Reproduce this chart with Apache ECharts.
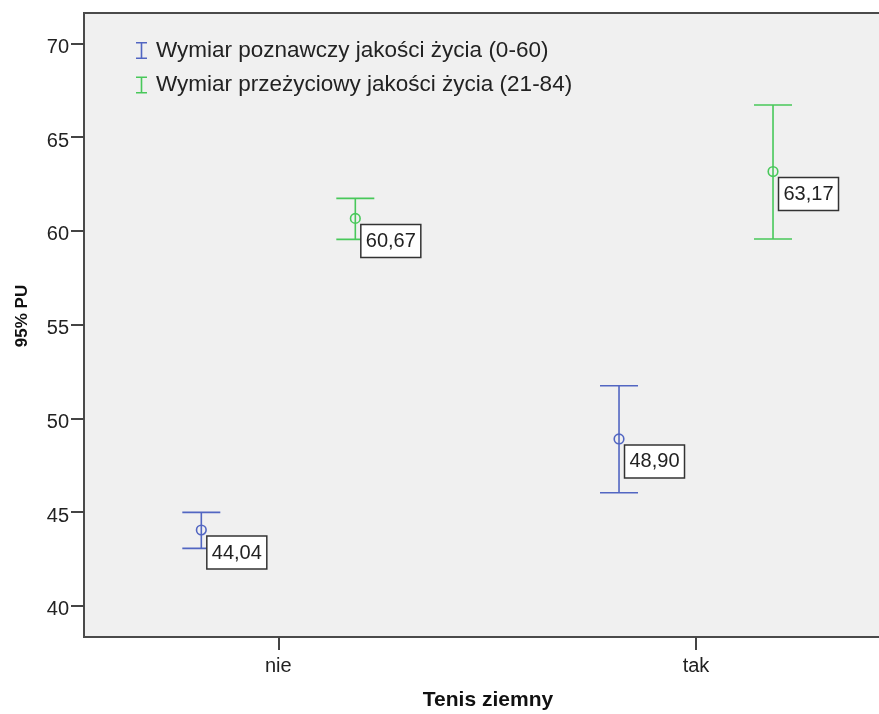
<!DOCTYPE html>
<html><head><meta charset="utf-8">
<script src="https://cdn.jsdelivr.net/npm/echarts@6/dist/echarts.min.js"></script>
<style>html,body{margin:0;padding:0;background:#fff}#c{width:879px;height:714px}</style>
</head><body><div id="c"></div>
<script>
const categories = ['nie', 'tak'];
const seriesNames = ['Wymiar poznawczy jakości życia (0-60)', 'Wymiar przeżyciowy jakości życia (21-84)'];
const poznMean = [44.04, 48.90];
const poznLow = [43.06, 46.03];
const poznHigh = [44.98, 51.74];
const przeMean = [60.67, 63.17];
const przeLow = [59.55, 59.57];
const przeHigh = [61.74, 66.72];
const yTicks = [40, 45, 50, 55, 60, 65, 70];
const catIdx = categories.map((c, i) => i);

const FONT = '"Liberation Sans", Arial, sans-serif';

function build(mean, low, high) {
  return categories.map((c, i) => [i, mean[i], low[i], high[i]]);
}

function errorRenderer(offset) {
  return function (params, api) {
    const i = api.value(0);
    const m = api.coord([i, api.value(1)]);
    const lo = api.coord([i, api.value(2)]);
    const hi = api.coord([i, api.value(3)]);
    const x = m[0] + offset;
    const color = api.visual('color');
    const ls = { stroke: color, lineWidth: 1.6 };
    const txt = api.value(1).toFixed(2).replace('.', ',');
    const bx = x + 5.5, by = m[1] + 6;
    return {
      type: 'group', children: [
        { type: 'line', shape: { x1: x, y1: hi[1], x2: x, y2: lo[1] }, style: ls },
        { type: 'line', shape: { x1: x - 19, y1: hi[1], x2: x + 19, y2: hi[1] }, style: ls },
        { type: 'line', shape: { x1: x - 19, y1: lo[1], x2: x + 19, y2: lo[1] }, style: ls },
        { type: 'circle', shape: { cx: x, cy: m[1], r: 4.8 }, style: { fill: null, stroke: color, lineWidth: 1.6 } },
        { type: 'rect', shape: { x: bx, y: by, width: 60, height: 33 }, style: { fill: '#ffffff', stroke: '#333333', lineWidth: 1.5 } },
        { type: 'text', x: bx + 30, y: by + 17, style: { text: txt, fill: '#222222', font: '20px ' + FONT, align: 'center', verticalAlign: 'middle' } }
      ]
    };
  };
}

const iconPath = 'path://M0,0L11,0L11,1.6L6.3,1.6L6.3,15.4L11,15.4L11,17L0,17L0,15.4L4.7,15.4L4.7,1.6L0,1.6Z';

const chart = echarts.init(document.getElementById('c'), null, { renderer: 'canvas' });
chart.setOption({
  animation: false,
  backgroundColor: '#ffffff',
  grid: {
    left: 84, top: 13, width: 808, height: 624,
    outerBoundsMode: 'none', containLabel: false,
    show: true, backgroundColor: '#f0f0f0', borderColor: '#4a4a4a', borderWidth: 2
  },
  legend: {
    orient: 'vertical', left: 131, top: 34,
    itemWidth: 11, itemHeight: 17, itemGap: 11.5,
    icon: iconPath,
    itemStyle: { borderWidth: 0 },
    textStyle: { fontFamily: FONT, fontSize: 22.5, color: '#222222', lineHeight: 22, padding: [0, 0, 0, 4] },
    data: seriesNames
  },
  xAxis: {
    type: 'value', min: -0.4652, max: 1.4692,
    name: 'Tenis ziemny', nameLocation: 'middle', nameGap: 53,
    nameTextStyle: { fontFamily: FONT, fontSize: 21, fontWeight: 'bold', color: '#111111' },
    axisLine: { show: false, onZero: false },
    splitLine: { show: false },
    axisTick: { show: true, customValues: catIdx, length: 13, lineStyle: { color: '#444444', width: 2 } },
    axisLabel: { customValues: catIdx, formatter: v => categories[Math.round(v)], margin: 19,
      fontFamily: FONT, fontSize: 20, color: '#222222' }
  },
  yAxis: {
    type: 'value', min: 38.33, max: 71.63,
    name: '95% PU', nameLocation: 'middle', nameGap: 53, nameRotate: 90,
    nameTextStyle: { fontFamily: FONT, fontSize: 17, fontWeight: 'bold', color: '#111111', padding: [0, 0, 0, 18] },
    axisLine: { show: false, onZero: false },
    splitLine: { show: false },
    axisTick: { show: true, customValues: yTicks, length: 13, lineStyle: { color: '#444444', width: 2 } },
    axisLabel: { customValues: yTicks, margin: 15, verticalAlign: 'top', lineHeight: 8,
      fontFamily: FONT, fontSize: 20, color: '#222222' }
  },
  series: [
    {
      name: seriesNames[0], type: 'custom', itemStyle: { color: '#5266c2' },
      renderItem: errorRenderer(-77), encode: { x: 0, y: 1 },
      data: build(poznMean, poznLow, poznHigh), z: 3
    },
    {
      name: seriesNames[1], type: 'custom', itemStyle: { color: '#48c85a' },
      renderItem: errorRenderer(77), encode: { x: 0, y: 1 },
      data: build(przeMean, przeLow, przeHigh), z: 3
    }
  ]
});
</script>
</body></html>
